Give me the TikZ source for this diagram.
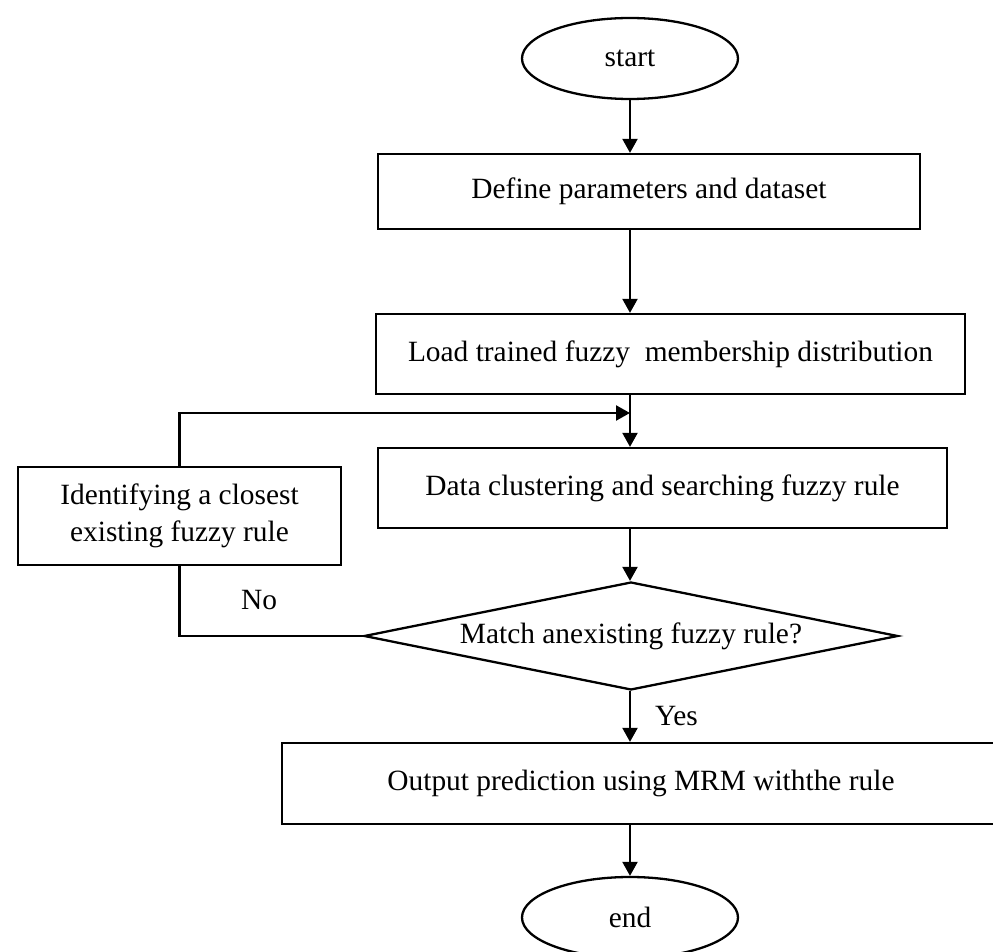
\documentclass[tikz,border=0pt]{standalone}
\usepackage{fontspec}
\setmainfont{Liberation Serif}
\usetikzlibrary{shapes.geometric,arrows.meta,calc}
\begin{document}
\begin{tikzpicture}[x=0.5pt,y=-0.5pt,
  every node/.style={font=\fontsize{14.7pt}{18.5pt}\selectfont, inner sep=0pt},
  line/.style={line width=1.15pt},
  arr/.style={line, -{Triangle[length=7pt,width=7.5pt]}},
  proc/.style={draw, line width=1.15pt, rectangle, align=center},
  term/.style={draw, line width=1.15pt, ellipse, minimum width=108pt, minimum height=40.5pt},
  test/.style={draw, line width=1.15pt, diamond, shape aspect=4.9, minimum width=267pt, minimum height=54pt},
]
\useasboundingbox (0,0) rectangle (993,952);

% flow nodes
\node[term] (start) at (630,58.5) {start};
\node[proc, minimum width=271pt, minimum height=37.5pt] (define) at (649,191.5) {Define parameters and dataset};
\node[proc, minimum width=294.5pt, minimum height=40pt] (load) at (670.5,354) {Load trained fuzzy\ \ membership distribution};
\node[proc, minimum width=284.5pt, minimum height=40pt] (cluster) at (662.5,488) {Data clustering and searching fuzzy rule};
\node[proc, minimum width=161.5pt, minimum height=49pt] (identify) at (179.5,516) {Identifying a closest\\existing fuzzy rule};
\node[test] (match) at (631,636) {Match anexisting fuzzy rule?};
\node[proc, minimum width=359pt, minimum height=40.5pt] (output) at (641,783.5) {Output prediction using MRM withthe rule};
\node[term] (finish) at (630,917.5) {end};
\node (no) at (259,600) {No};

% main axis of the flow and the merge point of the loop
\coordinate (axis) at (630,0);
\coordinate (merge) at (630,413);

% connectors
\draw[arr] (start.south) -- (start.south |- define.north);
\draw[arr] (define.south -| axis) -- (load.north -| axis);
\draw[arr] (load.south -| axis) -- (cluster.north -| axis);
\draw[arr] (cluster.south -| axis) -- (match.north -| axis);
\draw[line] (match.west) -| (identify.south);
\draw[arr] (identify.north) |- (merge);
\draw[arr] (match.south -| axis) -- node[right=12pt] {Yes} (output.north -| axis);
\draw[arr] (output.south -| axis) -- (finish.north);
\end{tikzpicture}
\end{document}
